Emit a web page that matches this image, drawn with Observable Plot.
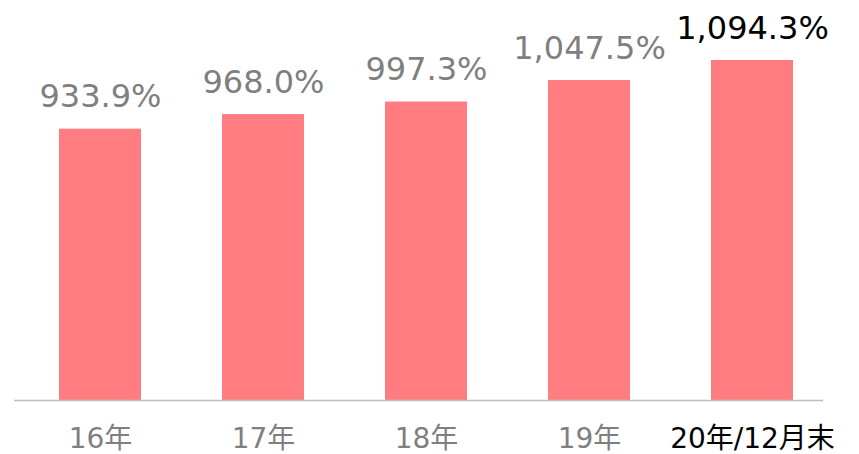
<!DOCTYPE html>
<html>
<head>
<meta charset="utf-8">
<script src="https://cdn.jsdelivr.net/npm/d3@7"></script>
<script src="https://cdn.jsdelivr.net/npm/@observablehq/plot@0.6"></script>
<style>
  html, body { margin: 0; padding: 0; background: #fff; }
  svg { font-family: "DejaVu Sans", "Noto Sans CJK JP", sans-serif; }
</style>
</head>
<body>
<div id="chart"></div>
<script>
const categories = ["16年", "17年", "18年", "19年", "20年/12月末"];
const values = [933.9, 968.0, 997.3, 1047.5, 1094.3];
const valueLabels = ["933.9%", "968.0%", "997.3%", "1,047.5%", "1,094.3%"];
const yMin = 300;

const data = categories.map((c, i) => ({cat: c, value: values[i], label: valueLabels[i]}));
const colorOf = c => c === categories[categories.length - 1] ? "#000000" : "#7f7f7f";

const chart = Plot.plot({
  width: 859,
  height: 454,
  marginTop: 60,
  marginBottom: 54,
  marginLeft: 18,
  marginRight: 26,
  x: {domain: categories, paddingInner: 0.5, paddingOuter: 0.25, align: 0.5},
  y: {domain: [yMin, 1094.3], axis: null},
  marks: [
    Plot.barY(data, {x: "cat", y1: () => yMin, y2: "value", fill: "#ff7c80"}),
    Plot.ruleY([yMin], {stroke: "#bfbfbf", strokeWidth: 1.5, insetLeft: -4, insetRight: 10}),
    Plot.text(data, {x: "cat", y: "value", text: "label", lineAnchor: "bottom", dy: -22, fontSize: 32, fill: d => colorOf(d.cat)}),
    Plot.axisX({tickSize: 0, tickPadding: 28, fontSize: 28, fill: d => colorOf(d), label: null})
  ]
});
document.getElementById("chart").appendChild(chart);
</script>
</body>
</html>
